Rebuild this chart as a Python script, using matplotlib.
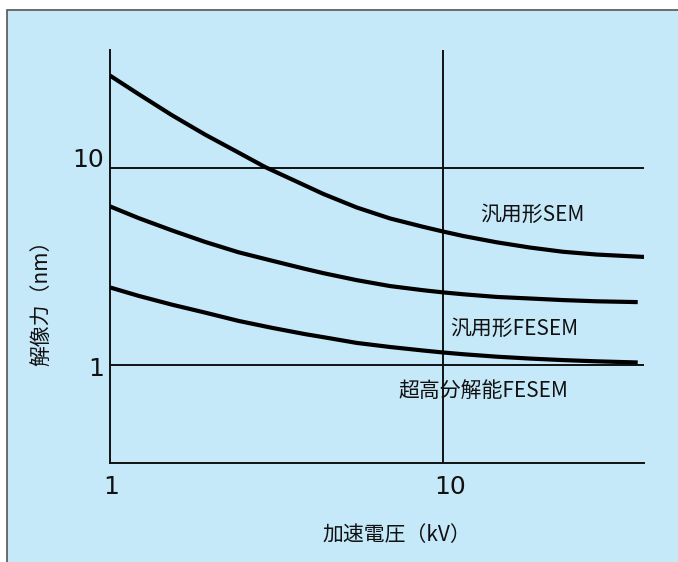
import matplotlib
matplotlib.use("Agg")
import matplotlib.pyplot as plt
from matplotlib.patches import Rectangle
import matplotlib.transforms as mtransforms

plt.rcParams['font.family'] = ['Noto Sans CJK JP', 'DejaVu Sans']

# Data
kv_sem = [1.0, 1.216, 1.532, 1.928, 2.427, 2.918, 3.846, 4.365, 5.497, 6.92,
          8.71, 10.0, 11.48, 14.46, 18.2, 22.86, 28.85, 40.0]
res_sem = [29.5, 23.8, 18.58, 14.79, 11.99, 10.12, 8.15, 7.38, 6.30, 5.54,
           5.02, 4.75, 4.51, 4.19, 3.94, 3.75, 3.63, 3.53]

kv_fesem = [1.0, 1.216, 1.532, 1.928, 2.427, 3.057, 3.846, 4.365, 5.497, 6.92,
            8.71, 10.0, 11.48, 14.46, 18.2, 22.86, 28.85, 38.3]
res_fesem = [6.38, 5.57, 4.82, 4.21, 3.73, 3.38, 3.07, 2.92, 2.69, 2.51,
             2.39, 2.33, 2.28, 2.21, 2.17, 2.13, 2.10, 2.08]

kv_uhr = [1.0, 1.216, 1.532, 1.928, 2.427, 3.057, 3.846, 4.365, 5.497, 6.92,
          8.71, 10.0, 11.48, 14.46, 18.2, 22.86, 28.85, 38.3]
res_uhr = [2.47, 2.24, 2.02, 1.84, 1.67, 1.54, 1.43, 1.38, 1.29, 1.23,
           1.18, 1.153, 1.13, 1.098, 1.074, 1.055, 1.04, 1.026]

series_names = ['汎用形SEM', '汎用形FESEM', '超高分解能FESEM']
label_pos_x = [18.5, 16.3, 13.2]
label_pos_y = [5.8, 1.53, 0.733]

x_ticks = [1, 10]
x_tick_labels = ['1', '10']
y_ticks = [1, 10]
y_tick_labels = ['1', '10']

x_label = '加速電圧（kV）'
y_label = '解像力（nm）'

BG = '#c6e9fa'
LINE = '#111111'

fig = plt.figure(figsize=(6.78, 5.62), dpi=100)
fig.patch.set_facecolor('white')
fig.add_artist(Rectangle((7 / 678, -0.05), 1.1, 1 - 10 / 562 + 0.05,
                         transform=fig.transFigure, facecolor=BG,
                         edgecolor='#555555', linewidth=1.2, zorder=-10))

ax = fig.add_axes([110 / 678, 1 - 463 / 562, 534 / 678, 413 / 562])
ax.set_facecolor('none')
ax.set_xscale('log')
ax.set_yscale('log')
ax.set_xlim(1, 40)
ax.set_ylim(10 ** -0.5, 10 ** 1.6)

for s in ['top', 'right']:
    ax.spines[s].set_visible(False)
for s in ['left', 'bottom']:
    ax.spines[s].set_color(LINE)
    ax.spines[s].set_linewidth(1.4)

ax.set_xticks([])
ax.set_yticks([])
ax.minorticks_off()
ax.tick_params(which='both', length=0, labelbottom=False, labelleft=False)

# grid lines
for yv in y_ticks:
    ax.axhline(yv, color=LINE, lw=1.4, zorder=1)
for xv in x_ticks[1:]:
    ax.axvline(xv, color=LINE, lw=1.4, zorder=1)

# curves
for xs, ys in [(kv_sem, res_sem), (kv_fesem, res_fesem), (kv_uhr, res_uhr)]:
    ax.plot(xs, ys, color='black', lw=3.0, solid_capstyle='butt',
            solid_joinstyle='round', zorder=3)

# series labels
for name, lx, ly in zip(series_names, label_pos_x, label_pos_y):
    ax.text(lx, ly, name, ha='center', va='center', fontsize=15, color='#111111')

# tick labels
xt = ax.get_xaxis_transform()
for v, lab, dx in zip(x_ticks, x_tick_labels, [1, 7]):
    off = mtransforms.ScaledTranslation(dx / 100, -24 / 100, fig.dpi_scale_trans)
    ax.text(v, 0, lab, transform=xt + off, ha='center', va='center',
            fontsize=18, color='#111111', family='DejaVu Sans')
yt = ax.get_yaxis_transform()
for v, lab, dy in zip(y_ticks, y_tick_labels, [-4, 8]):
    off = mtransforms.ScaledTranslation(-6 / 100, dy / 100, fig.dpi_scale_trans)
    ax.text(0, v, lab, transform=yt + off, ha='right', va='center',
            fontsize=18, color='#111111', family='DejaVu Sans')

fig.text(397 / 678, 1 - 535 / 562, x_label, ha='center', va='center', fontsize=15, color='#111111')
fig.text(41 / 678, 1 - 298 / 562, y_label, ha='center', va='center', fontsize=15,
         rotation=90, color='#111111')

fig.savefig('out.png', dpi=100, facecolor=fig.get_facecolor())
